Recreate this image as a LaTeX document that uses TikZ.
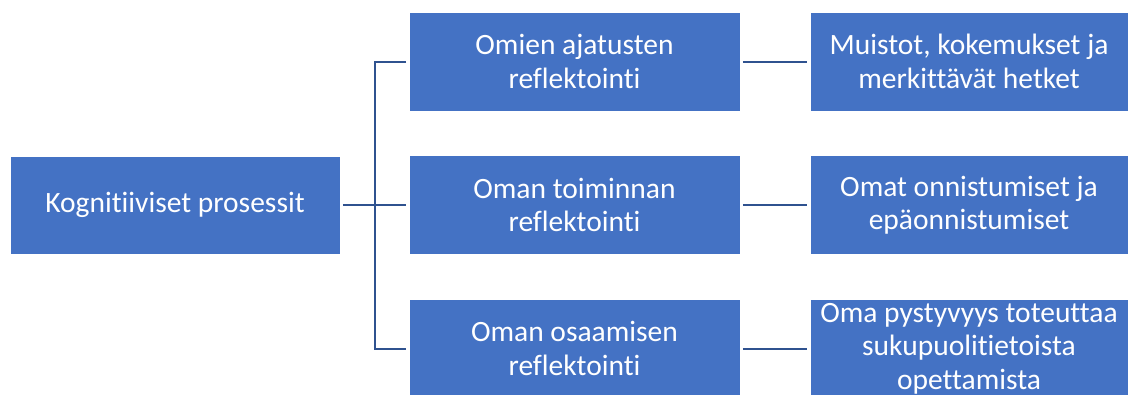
\documentclass[tikz,border=0pt]{standalone}
\usepackage{fontspec}
\setmainfont{Carlito}[RawFeature={-liga}]
\definecolor{boxblue}{HTML}{4472C4}
\definecolor{linecol}{HTML}{2F528F}
\begin{document}
\begin{tikzpicture}[x=1pt,y=-1pt,
  box/.style={rectangle,fill=boxblue,draw=white,line width=0.6pt,inner sep=0pt,
    text=white,align=center,font=\fontsize{29.5}{33.5}\selectfont},
  rootbox/.style={box,minimum width=330pt,minimum height=98pt},
  midbox/.style={box,minimum width=331pt,minimum height=99pt},
  rightbox/.style={box,minimum width=318pt,minimum height=99pt},
  conn/.style={draw=linecol,line width=2pt,shorten <=2.5pt,shorten >=2.5pt}]
\useasboundingbox (0,0) rectangle (1131,394);
\clip (0,0) rectangle (1131,394);
\node[rootbox] (root) at (175,205) {Kognitiiviset prosessit};
\node[midbox] (m1) at (574.5,61.5) {Omien ajatusten\\reflektointi};
\node[midbox] (m2) at (574.5,205) {Oman toiminnan\\reflektointi};
\node[midbox] (m3) at (574.5,348.5) {Oman osaamisen\\reflektointi};
\node[rightbox] (r1) at (969,61.5) {Muistot, kokemukset ja\\merkittävät hetket};
\node[rightbox] (r2) at (969,205) {Omat onnistumiset ja\\epäonnistumiset};
\node[rightbox] (r3) at (969,348.5) {Oma pystyvyys toteuttaa\\sukupuolitietoista\\opettamista};
\draw[conn] (root.east) -- (m2.west);
\draw[conn] (m1.west) -- ++(-34,0) |- (m3.west);
\draw[conn] (m1.east) -- (r1.west);
\draw[conn] (m2.east) -- (r2.west);
\draw[conn] (m3.east) -- (r3.west);
\end{tikzpicture}
\end{document}
